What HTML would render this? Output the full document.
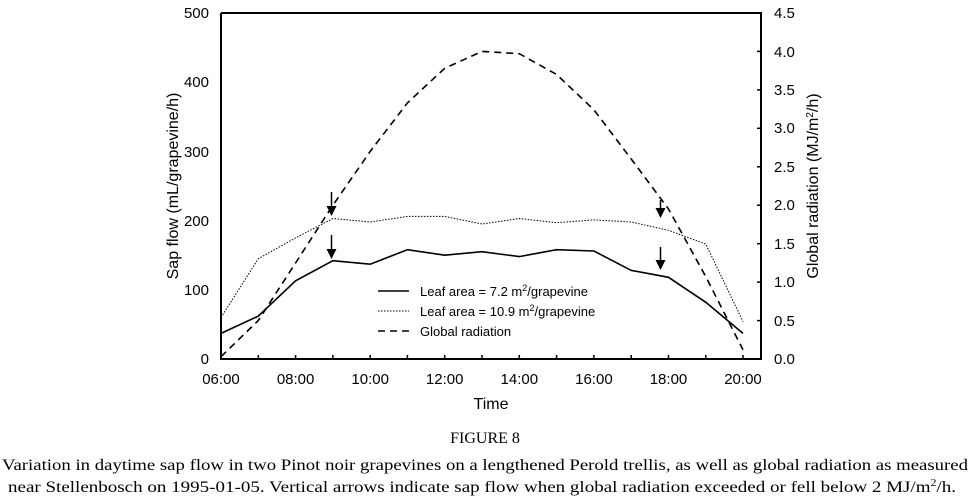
<!DOCTYPE html>
<html><head><style>body{margin:0;background:#fff}svg{display:block}</style></head><body>
<svg width="971" height="500" xmlns="http://www.w3.org/2000/svg" font-family="Liberation Sans, Arial, sans-serif">
<rect width="971" height="500" fill="#fff"/>
<g stroke="#000" stroke-width="2" fill="none">
<polyline points="221,13 221,359 761,359 761,13 221,13"/>
</g>
<g stroke="#000" stroke-width="1.5">
<line x1="258.3" y1="359" x2="258.3" y2="355"/><line x1="295.6" y1="359" x2="295.6" y2="355"/><line x1="332.9" y1="359" x2="332.9" y2="355"/><line x1="370.2" y1="359" x2="370.2" y2="355"/><line x1="407.4" y1="359" x2="407.4" y2="355"/><line x1="444.7" y1="359" x2="444.7" y2="355"/><line x1="482" y1="359" x2="482" y2="355"/><line x1="519.3" y1="359" x2="519.3" y2="355"/><line x1="556.6" y1="359" x2="556.6" y2="355"/><line x1="593.9" y1="359" x2="593.9" y2="355"/><line x1="631.2" y1="359" x2="631.2" y2="355"/><line x1="668.5" y1="359" x2="668.5" y2="355"/><line x1="705.8" y1="359" x2="705.8" y2="355"/><line x1="743" y1="359" x2="743" y2="355"/>
<line x1="757" y1="320.6" x2="761" y2="320.6"/><line x1="757" y1="282.1" x2="761" y2="282.1"/><line x1="757" y1="243.7" x2="761" y2="243.7"/><line x1="757" y1="205.2" x2="761" y2="205.2"/><line x1="757" y1="166.8" x2="761" y2="166.8"/><line x1="757" y1="128.3" x2="761" y2="128.3"/><line x1="757" y1="89.9" x2="761" y2="89.9"/><line x1="757" y1="51.4" x2="761" y2="51.4"/>
</g>
<g font-size="15" fill="#000" text-anchor="end">
<text x="209" y="364">0</text><text x="209" y="295">100</text><text x="209" y="226">200</text><text x="209" y="157">300</text><text x="209" y="87">400</text><text x="209" y="18">500</text>
</g>
<g font-size="15" fill="#000">
<text x="774" y="364">0.0</text><text x="774" y="326">0.5</text><text x="774" y="287">1.0</text><text x="774" y="249">1.5</text><text x="774" y="210">2.0</text><text x="774" y="172">2.5</text><text x="774" y="133">3.0</text><text x="774" y="95">3.5</text><text x="774" y="57">4.0</text><text x="774" y="18">4.5</text>
</g>
<g font-size="15" fill="#000" text-anchor="middle">
<text x="221" y="384">06:00</text><text x="295.6" y="384">08:00</text><text x="370.2" y="384">10:00</text><text x="444.7" y="384">12:00</text><text x="519.3" y="384">14:00</text><text x="593.9" y="384">16:00</text><text x="668.5" y="384">18:00</text><text x="743" y="384">20:00</text>
<text x="491" y="409" font-size="16">Time</text>
<text transform="translate(178,186) rotate(-90)" font-size="16">Sap flow (mL/grapevine/h)</text>
<text transform="translate(818,186) rotate(-90)" font-size="16">Global radiation (MJ/m<tspan font-size="10" dy="-5">2</tspan><tspan dy="5">/h)</tspan></text>
</g>
<g fill="none" stroke="#000">
<polyline stroke-width="1.6" points="221,333.4 258.3,316.1 295.6,280.8 332.9,260.7 370.2,264.2 407.4,249.7 444.7,255.2 482,251.7 519.3,256.6 556.6,249.7 593.9,251 631.2,270.4 668.5,277.3 705.8,302.3 743,333.4"/>
<polyline stroke-width="1" stroke-dasharray="1.5,1.5" points="221,317.5 258.3,258.7 295.6,237.9 332.9,218.5 370.2,222 407.4,216.4 444.7,216.4 482,224 519.3,218.5 556.6,222.7 593.9,219.9 631.2,222 668.5,230.3 705.8,244.1 743,321.6"/>
<polyline stroke-width="1.6" stroke-dasharray="7,5" points="221,356.7 258.3,320.5 295.6,262.9 332.9,205.2 370.2,151.4 407.4,102.9 444.7,68.3 482,51.4 519.3,53.7 556.6,74.5 593.9,109.8 631.2,159 668.5,209 705.8,276.7 743,349.8"/>
<line x1="331.5" y1="192" x2="331.5" y2="208" stroke-width="1.5"/>
<line x1="331.5" y1="235" x2="331.5" y2="251" stroke-width="1.5"/>
<line x1="660.5" y1="200" x2="660.5" y2="210" stroke-width="1.5"/>
<line x1="660.5" y1="247" x2="660.5" y2="262" stroke-width="1.5"/>
<line x1="378" y1="291" x2="409" y2="291" stroke-width="1.6"/>
<line x1="378" y1="311" x2="409" y2="311" stroke-width="1" stroke-dasharray="1.5,1.5"/>
<line x1="378" y1="331" x2="409" y2="331" stroke-width="1.6" stroke-dasharray="7,5"/>
</g>
<g fill="#000">
<polygon points="326.5,206 336.5,206 331.5,216"/>
<polygon points="326.5,249 336.5,249 331.5,259"/>
<polygon points="655.5,208 665.5,208 660.5,218"/>
<polygon points="655.5,260 665.5,260 660.5,270"/>
</g>
<g font-size="13" fill="#000">
<text x="420" y="296">Leaf area = 7.2 m<tspan font-size="9" dy="-5">2</tspan><tspan dy="5">/grapevine</tspan></text>
<text x="420" y="316">Leaf area = 10.9 m<tspan font-size="9" dy="-5">2</tspan><tspan dy="5">/grapevine</tspan></text>
<text x="420" y="336">Global radiation</text>
</g>
<g font-family="Liberation Serif, Times New Roman, serif" font-size="16" fill="#000">
<text x="485" y="443" text-anchor="middle">FIGURE 8</text>
<text x="2" y="470" textLength="966" lengthAdjust="spacingAndGlyphs">Variation in daytime sap flow in two Pinot noir grapevines on a lengthened Perold trellis, as well as global radiation as measured</text>
<text x="8" y="492" textLength="948" lengthAdjust="spacingAndGlyphs">near Stellenbosch on 1995-01-05. Vertical arrows indicate sap flow when global radiation exceeded or fell below 2 MJ/m<tspan font-size="10" dy="-6">2</tspan><tspan dy="6">/h.</tspan></text>
</g>
</svg>
</body></html>
